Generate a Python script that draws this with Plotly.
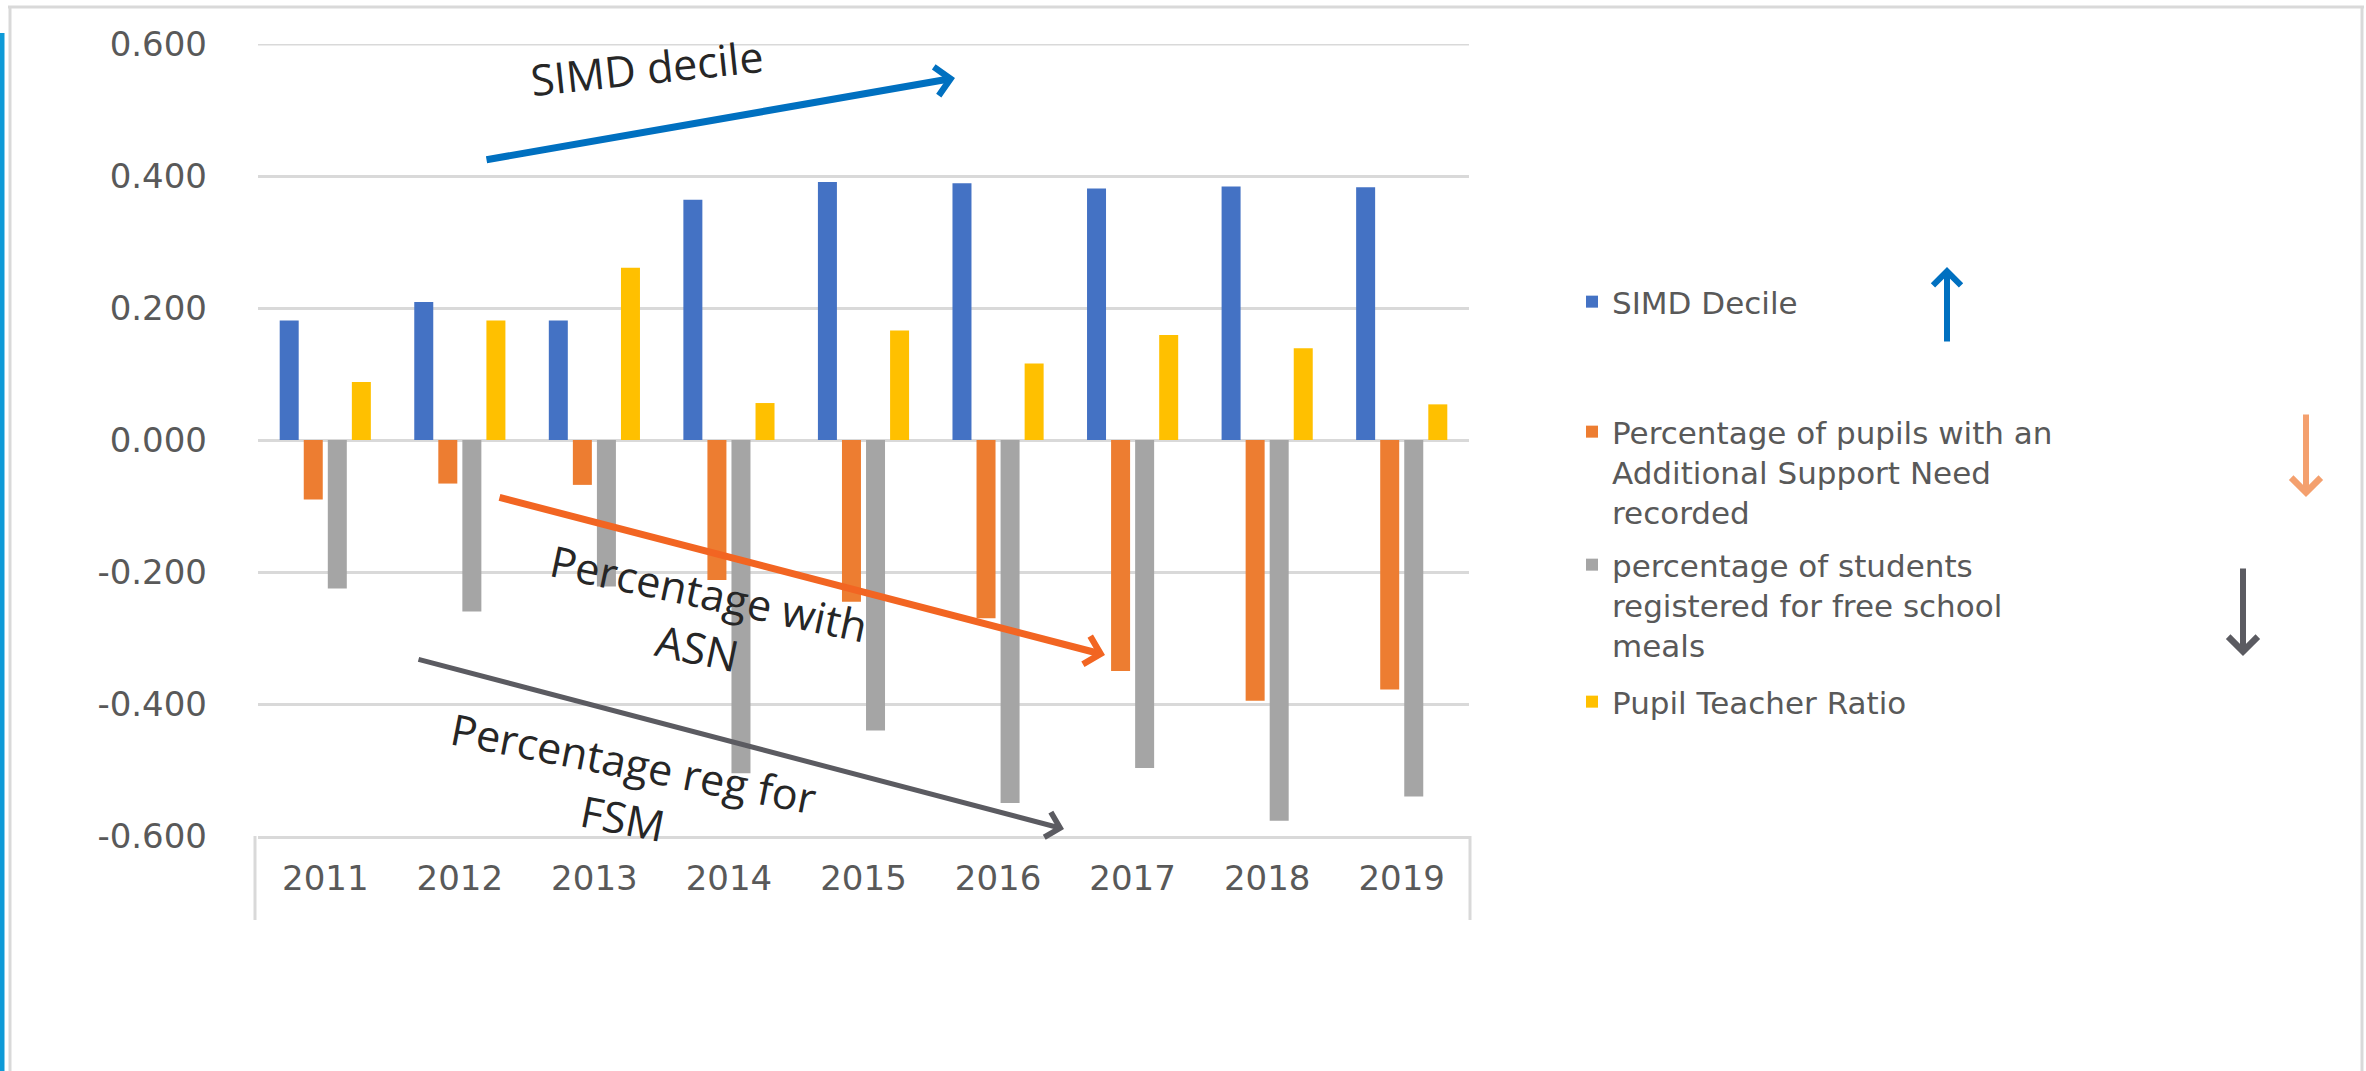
import plotly.graph_objects as go

# ---------------- data ----------------
years = ["2011", "2012", "2013", "2014", "2015", "2016", "2017", "2018", "2019"]
simd_decile = [0.181, 0.209, 0.181, 0.364, 0.391, 0.389, 0.381, 0.384, 0.383]
pct_asn = [-0.090, -0.066, -0.068, -0.212, -0.245, -0.270, -0.350, -0.395, -0.378]
pct_fsm = [-0.225, -0.260, -0.222, -0.505, -0.440, -0.550, -0.497, -0.577, -0.540]
pupil_teacher_ratio = [0.088, 0.181, 0.261, 0.056, 0.166, 0.116, 0.159, 0.139, 0.054]

series_names = [
    "SIMD Decile",
    "Percentage of pupils with an<br>Additional Support Need<br>recorded",
    "percentage of students<br>registered for free school<br>meals",
    "Pupil Teacher Ratio",
]
y_ticks = [0.6, 0.4, 0.2, 0.0, -0.2, -0.4, -0.6]
y_tick_labels = [f"{v:.3f}" for v in y_ticks]

# ---------------- layout helpers (pixel -> paper) ----------------
FW, FH = 2366, 1071
L, R, T, B = 258, 1469, 44, 836
W, H = R - L, B - T


def px(x):
    return (x - L) / W


def py(y):
    return (B - y) / H


colors = ["#4472C4", "#ED7D31", "#A5A5A5", "#FFC000"]
values = [simd_decile, pct_asn, pct_fsm, pupil_teacher_ratio]
legend_ids = ["legend", "legend2", "legend3", "legend4"]

fig = go.Figure()
for name, vals, col, lg in zip(series_names, values, colors, legend_ids):
    fig.add_trace(go.Bar(x=years, y=vals, name=name, marker_color=col,
                         marker_line_width=0, legend=lg))

grid_col = "#D9D9D9"
tick_font = dict(family="DejaVu Sans", size=34, color="#595959")
leg_font = dict(family="DejaVu Sans", size=31, color="#595959")

legend_common = dict(xanchor="left", yanchor="middle", font=leg_font,
                     bgcolor="rgba(0,0,0,0)", valign="top", itemwidth=30)
leg_x = px(1572)

fig.update_layout(
    width=FW, height=FH,
    margin=dict(l=L, r=FW - R, t=T, b=FH - B, autoexpand=False),
    paper_bgcolor="white", plot_bgcolor="white",
    barmode="group", bargap=0.285, bargroupgap=0.21,
    showlegend=True,
    legend=dict(x=leg_x, y=py(302), **legend_common),
    legend2=dict(x=leg_x, y=py(472), **legend_common),
    legend3=dict(x=leg_x, y=py(605), **legend_common),
    legend4=dict(x=leg_x, y=py(702), **legend_common),
    xaxis=dict(showgrid=False, tickfont=tick_font, ticks="",
               showline=True, linecolor=grid_col, linewidth=3,
               ticklabelstandoff=10),
    yaxis=dict(range=[-0.6, 0.6], tickvals=y_ticks, ticktext=y_tick_labels,
               showgrid=True, gridcolor=grid_col, gridwidth=3,
               zeroline=True, zerolinecolor=grid_col, zerolinewidth=3,
               tickfont=tick_font, ticks="", ticklabelstandoff=50),
)

# ---------------- decorative frame, top gridline & category box ----------------
shapes = [
    dict(type="line", xref="x domain", yref="y", x0=0, x1=1, y0=y_ticks[0], y1=y_ticks[0],
         line=dict(color=grid_col, width=3), layer="below"),
    dict(type="line", xref="paper", yref="paper", x0=px(8), x1=px(2364), y0=py(7), y1=py(7),
         line=dict(color=grid_col, width=3)),
    dict(type="line", xref="paper", yref="paper", x0=px(10), x1=px(10), y0=py(7), y1=py(1071),
         line=dict(color=grid_col, width=3)),
    dict(type="line", xref="paper", yref="paper", x0=px(2362), x1=px(2362), y0=py(7), y1=py(1071),
         line=dict(color=grid_col, width=3)),
    dict(type="rect", xref="paper", yref="paper", x0=px(0), x1=px(4.5), y0=py(33), y1=py(1071),
         fillcolor="#0E9AD7", line=dict(width=0)),
    dict(type="line", xref="paper", yref="paper", x0=px(255), x1=px(255), y0=py(836), y1=py(920),
         line=dict(color=grid_col, width=3)),
    dict(type="line", xref="paper", yref="paper", x0=px(1470), x1=px(1470), y0=py(836), y1=py(920),
         line=dict(color=grid_col, width=3)),
]
fig.update_layout(shapes=shapes)


# ---------------- arrows & hand-written labels ----------------
def arrow(head, tail, color, width, size, head_style=4):
    return dict(xref="paper", yref="paper", x=px(head[0]), y=py(head[1]),
                ax=tail[0] - head[0], ay=tail[1] - head[1], text="",
                showarrow=True, arrowhead=head_style, arrowsize=size,
                arrowwidth=width, arrowcolor=color, standoff=0, startstandoff=0)


anno_font = dict(family="Open Sans", size=43, color="#262626")
annotations = [
    arrow((955, 78), (485, 160), "#0070C0", 7, 0.8),
    arrow((1105, 655), (498, 497), "#F26522", 7, 0.8),
    arrow((1064, 829), (417, 659), "#5B5B61", 5, 1.0),
    arrow((1947, 267), (1947, 343), "#0070C0", 6, 0.9),
    arrow((2306, 497), (2306, 413), "#F4A06E", 6, 0.95),
    arrow((2243, 656), (2243, 567), "#5B5B61", 6, 0.95),
    dict(xref="paper", yref="paper", x=px(647), y=py(67), text="SIMD decile",
         textangle=-6, showarrow=False, font=anno_font, xanchor="center", yanchor="middle"),
    dict(xref="paper", yref="paper", x=px(703), y=py(620), text="Percentage with<br>ASN",
         textangle=12, showarrow=False, font=anno_font, xanchor="center", yanchor="middle"),
    dict(xref="paper", yref="paper", x=px(628), y=py(790), text="Percentage reg for<br>FSM",
         textangle=11, showarrow=False, font=anno_font, xanchor="center", yanchor="middle"),
]
fig.update_layout(annotations=annotations)

fig.write_html("out.html")
